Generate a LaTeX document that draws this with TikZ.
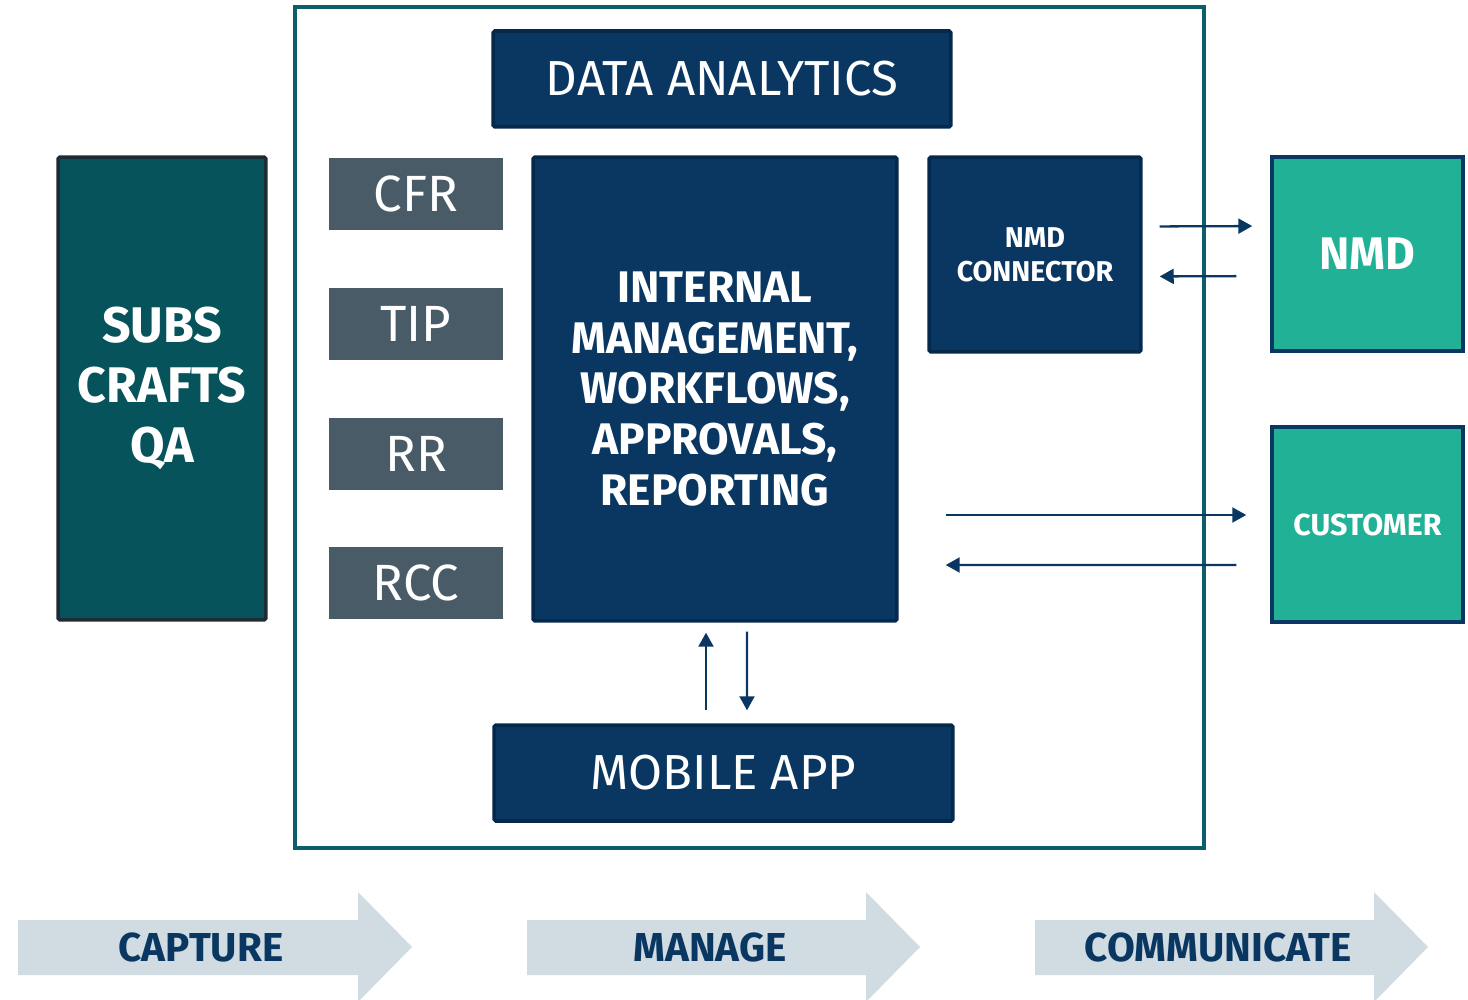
\documentclass[tikz,border=0pt]{standalone}
\usepackage{fontspec}
\setmainfont{Fira Sans}
\usepackage{tikz}
\usetikzlibrary{arrows.meta,positioning,calc}
\definecolor{frameteal}{RGB}{12,94,106}
\definecolor{substeal}{RGB}{7,83,92}
\definecolor{subsline}{RGB}{30,43,51}
\definecolor{boxnavy}{RGB}{10,55,97}
\definecolor{navyline}{RGB}{5,40,77}
\definecolor{toolgray}{RGB}{72,91,102}
\definecolor{partygreen}{RGB}{32,177,151}
\definecolor{stagegray}{RGB}{208,219,226}

\begin{document}
\begin{tikzpicture}[
  x=0.02cm, y=-0.02cm,
  font=\fontsize{28}{34}\selectfont,
  box/.style={draw=navyline,line width=2pt,rounded corners=1pt,fill=boxnavy,
    text=white,align=center,inner sep=0pt},
  tool/.style={fill=toolgray,text=white,inner sep=0pt,font=\fontsize{29}{34}\selectfont,
    minimum width=3.48cm,minimum height=1.44cm},
  party/.style={draw=boxnavy,line width=2pt,fill=partygreen,text=white,
    align=center,inner sep=0pt,minimum width=3.82cm,minimum height=3.88cm},
  arrow/.style={-{Triangle[length=2.8mm,width=3mm]},line width=1.3pt,boxnavy},
  stage/.style={fill=stagegray},
  stagetext/.style={text=boxnavy,font=\fontsize{23}{28}\selectfont\bfseries}
]
\useasboundingbox (0,0) rectangle (1468,1000);

% platform frame
\node[draw=frameteal,line width=2pt,minimum width=18.18cm,minimum height=16.82cm]
  (frame) at (749.5,427.5) {};

% capture side
\node[box,draw=subsline,fill=substeal,font=\fontsize{28.5}{34}\selectfont\bfseries,
  minimum width=4.16cm,minimum height=9.26cm] (subs) at (162,388.5) {SUBS\\CRAFTS\\QA};

% inside the platform
\node[box,minimum width=9.16cm,minimum height=1.92cm] (analytics) at (722,79) {DATA ANALYTICS};
\node[tool] (cfr) at (416,194) {CFR};
\node[tool] (tip) at (416,324) {TIP};
\node[tool] (rr) at (416,454) {RR};
\node[tool] (rcc) at (416,583) {RCC};
\node[box,font=\fontsize{25.2}{29}\selectfont\bfseries,minimum width=7.28cm,minimum height=9.28cm]
  (internal) at (715,389) {INTERNAL\\MANAGEMENT,\\WORKFLOWS,\\APPROVALS,\\REPORTING};
\node[box,font=\fontsize{16.3}{19.5}\selectfont\bfseries,minimum width=4.24cm,minimum height=3.9cm]
  (connector) at (1035,254.5) {NMD\\CONNECTOR};
\node[box,minimum width=9.18cm,minimum height=1.92cm] (mobile) at (723.5,773) {MOBILE APP};

% outside parties
\node[party,font=\fontsize{26}{30}\selectfont\bfseries] (nmd) at (1367.5,254) {NMD};
\node[party,font=\fontsize{17.3}{22}\selectfont\bfseries,minimum height=3.9cm]
  (customer) at (1367.5,524.5) {CUSTOMER};

\draw[arrow,shorten <=0.34cm,shorten >=0.36cm] ($(connector.east)+(0,-28)$) -- ($(nmd.west)+(0,-28)$);
\draw[arrow,shorten <=0.68cm,shorten >=0.34cm] ($(nmd.west)+(0,22)$) -- ($(connector.east)+(0,22)$);
\draw[arrow,shorten <=0.94cm,shorten >=0.48cm] ($(internal.east)+(0,126)$) -- ($(customer.west)+(0,-9.5)$);
\draw[arrow,shorten <=0.68cm,shorten >=0.94cm] ($(customer.west)+(0,40.5)$) -- ($(internal.east)+(0,176)$);
\draw[arrow] ($(mobile.north)+(-17.5,-13)$) -- ($(internal.south)+(-9,10)$);
\draw[arrow] ($(internal.south)+(32,9)$) -- ($(mobile.north)+(23.5,-13)$);

% stages
\fill[stage] (18,920) -- (358,920) -- (358,892) -- (412,947) -- (358,1002) -- (358,975) -- (18,975) -- cycle;
\fill[stage] (527,920) -- (866,920) -- (866,892) -- (920,947) -- (866,1002) -- (866,975) -- (527,975) -- cycle;
\fill[stage] (1035,920) -- (1374,920) -- (1374,892) -- (1428,947) -- (1374,1002) -- (1374,975) -- (1035,975) -- cycle;
\node[stagetext] (capture) at (201,947) {CAPTURE};
\node[stagetext] (manage) at (710,947) {MANAGE};
\node[stagetext] (communicate) at (1218,947) {COMMUNICATE};
\end{tikzpicture}
\end{document}
